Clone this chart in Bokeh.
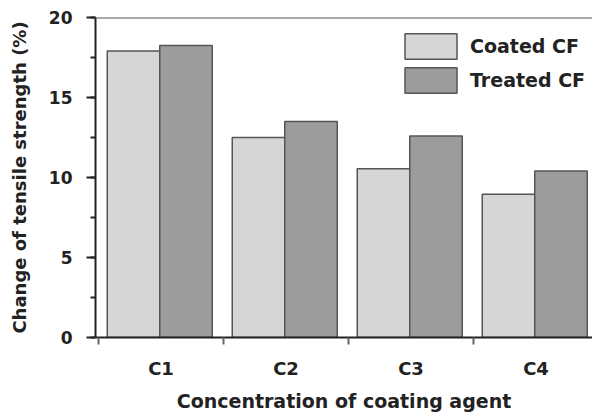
from bokeh.plotting import figure
from bokeh.models import ColumnDataSource, Range1d, FixedTicker, SingleIntervalTicker, Span, Legend, LegendItem
from bokeh.embed import file_html
from bokeh.resources import INLINE

categories = ["C1", "C2", "C3", "C4"]
coated = [17.9, 12.5, 10.55, 8.95]
treated = [18.25, 13.5, 12.6, 10.4]
series_names = ["Coated CF", "Treated CF"]

idx = list(range(len(categories)))
light_x = [i + 0.28 for i in idx]
dark_x = [i + 0.70 for i in idx]

FONT = "DejaVu Sans"
TXT = "#222222"

p = figure(width=592, height=417, output_backend="svg", toolbar_location=None,
           x_range=Range1d(-0.024, 3.952), y_range=Range1d(0, 20),
           min_border_left=95, min_border_right=0, min_border_top=17, min_border_bottom=80)
p.outline_line_color = None
p.xgrid.visible = False
p.ygrid.visible = False
p.background_fill_color = "white"
p.border_fill_color = "white"

src1 = ColumnDataSource(dict(x=light_x, top=coated))
src2 = ColumnDataSource(dict(x=dark_x, top=treated))
r1 = p.vbar(x="x", top="top", width=0.42, source=src1, fill_color="#d6d6d6",
            line_color="#555555", line_width=1.5)
r2 = p.vbar(x="x", top="top", width=0.42, source=src2, fill_color="#9c9c9c",
            line_color="#555555", line_width=1.5)

# top frame line
p.add_layout(Span(location=20, dimension="width", line_color="#555555", line_width=2))

# x axis
xa = p.xaxis[0]
xa.ticker = FixedTicker(ticks=[i + 0.5 for i in idx], minor_ticks=[float(i) for i in idx])
xa.major_label_overrides = {i + 0.5: c for i, c in zip(idx, categories)}
xa.major_tick_out = 0
xa.major_tick_in = 0
xa.minor_tick_out = 7
xa.minor_tick_in = 0
xa.minor_tick_line_color = "#666666"
xa.minor_tick_line_width = 2
xa.axis_line_color = "#222222"
xa.axis_line_width = 2
xa.major_label_standoff = 13
xa.major_label_text_font = FONT
xa.major_label_text_font_size = "18px"
xa.major_label_text_font_style = "bold"
xa.major_label_text_color = TXT
xa.axis_label = "Concentration of coating agent"
xa.axis_label_text_font = FONT
xa.axis_label_text_font_size = "19px"
xa.axis_label_text_font_style = "bold"
xa.axis_label_text_color = TXT
xa.axis_label_standoff = 8

# y axis
ya = p.yaxis[0]
ya.ticker = SingleIntervalTicker(interval=5, num_minor_ticks=2)
ya.major_tick_out = 9
ya.major_tick_in = 0
ya.minor_tick_out = 5
ya.minor_tick_in = 0
ya.major_tick_line_color = "#222222"
ya.minor_tick_line_color = "#222222"
ya.major_tick_line_width = 2
ya.minor_tick_line_width = 2
ya.axis_line_color = "#222222"
ya.axis_line_width = 2
ya.major_label_standoff = 14
ya.major_label_text_font = FONT
ya.major_label_text_font_size = "17px"
ya.major_label_text_font_style = "bold"
ya.major_label_text_color = TXT
ya.axis_label = "Change of tensile strength (%)"
ya.axis_label_text_font = FONT
ya.axis_label_text_font_size = "18px"
ya.axis_label_text_font_style = "bold"
ya.axis_label_text_color = TXT
ya.axis_label_standoff = 16

legend = Legend(items=[LegendItem(label=series_names[0], renderers=[r1]),
                       LegendItem(label=series_names[1], renderers=[r2])],
                location=(303, 241))
legend.glyph_width = 65
legend.glyph_height = 32
legend.spacing = 2
legend.padding = 0
legend.margin = 0
legend.label_standoff = 7
legend.label_text_font = FONT
legend.label_text_font_size = "19px"
legend.label_text_font_style = "bold"
legend.label_text_color = TXT
legend.border_line_color = None
legend.background_fill_alpha = 0
p.add_layout(legend, "center")

open("out.html", "w").write(file_html(p, INLINE))
